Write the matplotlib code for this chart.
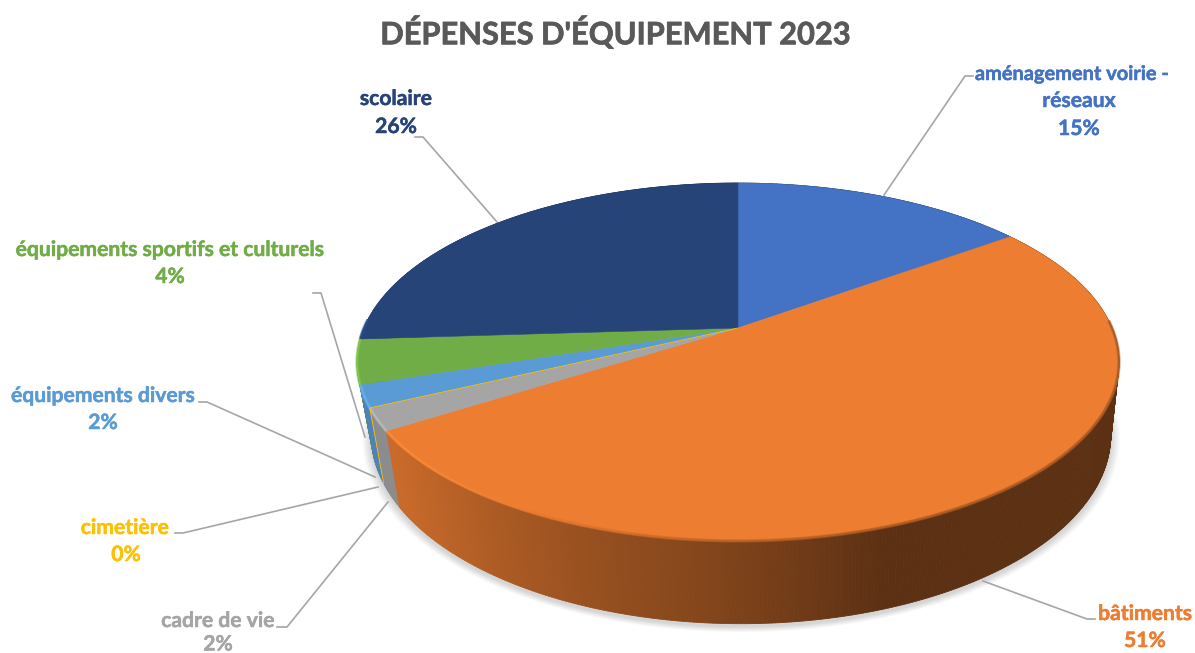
import numpy as np
import matplotlib
matplotlib.use("Agg")
import matplotlib.pyplot as plt
import matplotlib.patheffects as pe
from matplotlib.collections import LineCollection, PolyCollection
from matplotlib.colors import to_rgb

TITLE = "DÉPENSES D'ÉQUIPEMENT 2023"
names = ["aménagement voirie - réseaux", "bâtiments", "cadre de vie", "cimetière",
         "équipements divers", "équipements sportifs et culturels", "scolaire"]
values = [15, 51, 2, 0, 2, 4, 26]
colors = ["#4472C4", "#ED7D31", "#A5A5A5", "#FFC000", "#5B9BD5", "#70AD47", "#264478"]

# label text lines: (text, center x, center y, font size) per line, pixel space
label_lines = [
    [("aménagement voirie -", 1072, 74, 14.4), ("réseaux", 1079, 101, 15.2), ("15%", 1079, 129, 15.2)],
    [("bâtiments", 1145, 614, 15.2), ("51%", 1145, 641, 15.2)],
    [("cadre de vie", 218, 621, 15.2), ("2%", 218, 644.5, 15.2)],
    [("cimetière", 125, 528, 15.2), ("0%", 126, 555, 15.2)],
    [("équipements divers", 103, 396, 15.2), ("2%", 103, 423, 15.2)],
    [("équipements sportifs et culturels", 170, 250, 15.2), ("4%", 170, 277, 15.2)],
    [("scolaire", 396, 99, 15.2), ("26%", 396, 127, 15.2)],
]
leaders = [
    [(973, 76), (965, 76), (884, 195)],
    [(1095, 619), (1087, 619), (983, 581)],
    [(277, 627), (287, 627), (388, 502)],
    [(175, 533), (183, 533), (378, 487)],
    [(199, 402), (207, 402), (375, 477)],
    [(313, 293), (321, 293), (365, 437)],
    [(415, 137), (423, 137), (497, 222)],
]

# projected disc: perspective term k squeezes the back of the circle
CX_TOP, CX_BOT = 738, 741
CY_TOP, CY_BOT = 328, 399
R_TOP, B_TOP = 374, 172.5
R_BOT, B_BOT = 363, 182
K = 0.19


def rim(theta, cx, r, b, cy):
    u, v = np.sin(theta), np.cos(theta)
    w = 1 + K * v
    return np.column_stack([cx + r * u / w, cy - b * v / w])


def top_rim(theta):
    return rim(theta, CX_TOP, R_TOP, B_TOP, CY_TOP)


def bottom_rim(theta):
    return rim(theta, CX_BOT, R_BOT, B_BOT, CY_BOT)


def wall_shade(x):
    return np.interp(x, [390, 500, 600, 700, 800, 880, 1120],
                     [0.85, 0.72, 0.63, 0.56, 0.47, 0.39, 0.39])


fig = plt.figure(figsize=(11.95, 6.53), dpi=100)
ax = fig.add_axes([0, 0, 1, 1])
ax.set_xlim(0, 1195)
ax.set_ylim(653, 0)
ax.axis("off")

edges = np.radians(np.cumsum([0] + values) * 3.6)

# soft drop shadow below the disc
full = np.linspace(0, 2 * np.pi, 361)
base = bottom_rim(full)
for i in range(14):
    grow = 1 + 0.0018 * (14 - i)
    pts = (base - [CX_BOT, CY_BOT]) * grow + [CX_BOT, CY_BOT + 3]
    ax.fill(pts[:, 0], pts[:, 1], color="black", alpha=0.012, lw=0, zorder=1)

# side wall, built from thin quads sorted back to front
quads, quad_colors, rim_segs, rim_colors = [], [], [], []
for start, end, col in zip(edges[:-1], edges[1:], colors):
    if end <= start:
        continue
    base_rgb = np.array(to_rgb(col))
    ts = np.linspace(start, end, max(2, int(np.degrees(end - start) * 2) + 1))
    top, bot = top_rim(ts), bottom_rim(ts)
    for j in range(len(ts) - 1):
        xm = (top[j, 0] + top[j + 1, 0]) / 2
        wall = base_rgb * wall_shade(xm)
        quads.append([top[j], top[j + 1], bot[j + 1], bot[j]])
        quad_colors.append(wall)
        if np.cos(ts[j]) < 0.05:
            hl = np.interp(xm, [360, 700], [1, 0])
            rim_col = np.clip(base_rgb * (1 + 0.14 * hl), 0, 1) * (0.55 + 0.45 * hl) + wall * (0.45 - 0.45 * hl)
            rim_segs.append([top[j], top[j + 1]])
            rim_colors.append(rim_col)

order = np.argsort([q[0][1] for q in quads])
ax.add_collection(PolyCollection([quads[i] for i in order],
                                 facecolors=[quad_colors[i] for i in order],
                                 edgecolors=[quad_colors[i] for i in order],
                                 linewidths=0.6, zorder=2))

# top face
for start, end, col in zip(edges[:-1], edges[1:], colors):
    if end <= start:
        continue
    ts = np.linspace(start, end, max(2, int(np.degrees(end - start)) + 1))
    pts = np.vstack([[CX_TOP, CY_TOP], top_rim(ts)])
    ax.fill(pts[:, 0], pts[:, 1], facecolor=col, edgecolor=col, lw=0.4, zorder=3)

# softened edge where the top meets the wall
ax.add_collection(LineCollection(rim_segs, colors=rim_colors, linewidths=2.4, alpha=0.55, zorder=4))
ax.add_collection(LineCollection(rim_segs, colors=rim_colors, linewidths=1.2, zorder=4))

# a zero slice still shows as a hairline along its edge
for start, end, col in zip(edges[:-1], edges[1:], colors):
    if end == start:
        t = np.array([start])
        a, b = top_rim(t)[0], bottom_rim(t)[0]
        ax.plot([CX_TOP, a[0], b[0]], [CY_TOP, a[1], b[1]], color=col, lw=0.6, zorder=5)

for path in leaders:
    xs, ys = zip(*path)
    ax.plot(xs, ys, color="#A6A6A6", lw=1.2, zorder=1.5, solid_joinstyle="miter")

for lines, col in zip(label_lines, colors):
    for text, x, y, size in lines:
        ax.text(x, y, text, color=col, family="Lato", weight="bold", fontsize=size,
                ha="center", va="center", zorder=6,
                path_effects=[pe.withStroke(linewidth=0.35, foreground=col)])

ax.text(616, 33, TITLE, color="#595959", family="Lato", weight="bold", fontsize=22.2,
        ha="center", va="center", zorder=6,
        path_effects=[pe.withStroke(linewidth=0.5, foreground="#595959")])

fig.savefig("out.png", dpi=100, facecolor="white")
